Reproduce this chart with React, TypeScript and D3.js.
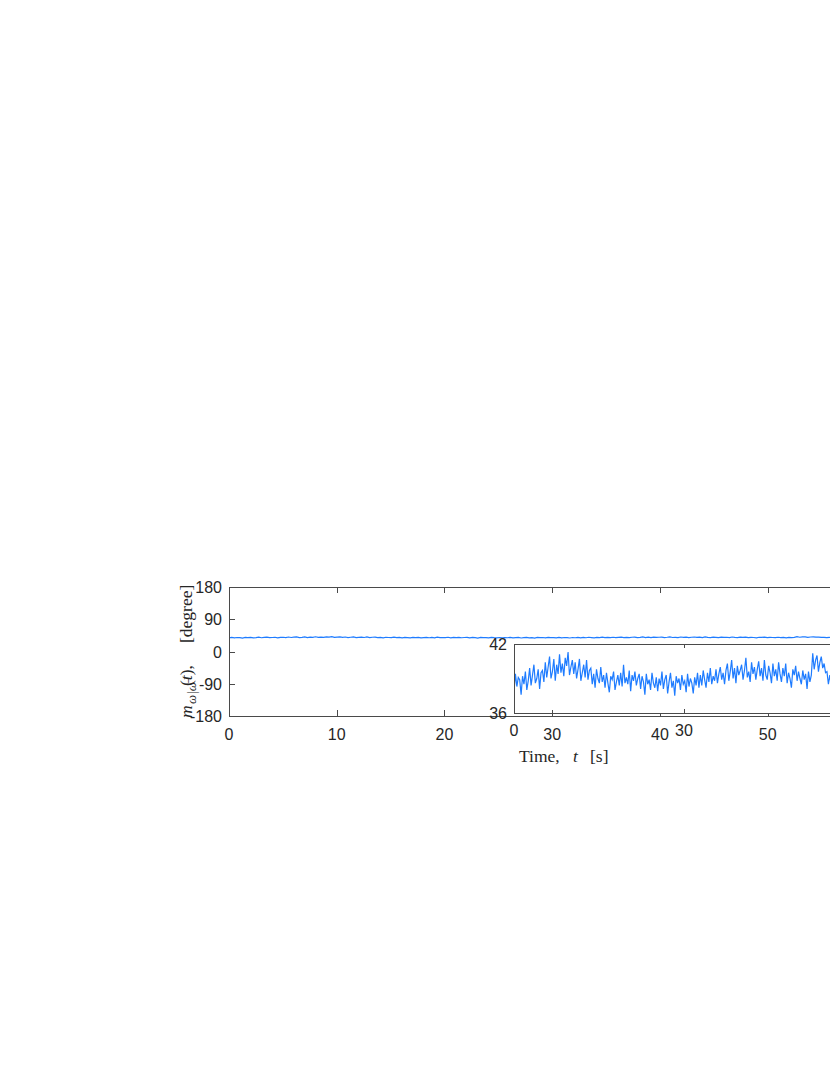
import React from 'react';
import * as d3 from 'd3';

// ---- data ----
const mainXTicks = [0, 10, 20, 30, 40, 50];
const mainXTickLabels = ['0', '10', '20', '30', '40', '50'];
const mainYTicks = [180, 90, 0, -90, -180];
const mainYTickLabels = ['180', '90', '0', '-90', '-180'];
const insetXTicks = [0, 30];
const insetXTickLabels = ['0', '30'];
const insetYTicks = [42, 36];
const insetYTickLabels = ['42', '36'];
const timeStart = 0;
const timeEnd = 60;
// m(t) in degrees, sampled uniformly from timeStart to timeEnd
const signal = [
  37.9, 39.4, 38.3, 39.1, 38.9, 37.6, 39.2, 38.5, 39.6, 38.0, 38.8,
  39.9, 38.4, 39.3, 40.2, 38.6, 39.0, 39.8, 38.1, 39.5, 39.7, 38.7,
  40.4, 39.1, 40.0, 40.9, 39.0, 39.6, 40.7, 38.8, 40.2, 39.4,
  41.1, 39.5, 40.3, 39.2, 40.8, 40.1, 41.3, 39.3, 40.0, 40.6, 39.4,
  40.4, 39.0, 39.8, 40.7, 38.8, 39.5, 40.2, 39.1, 40.6, 38.9, 39.7,
  39.9, 38.5, 39.4, 38.2, 39.8, 39.0, 38.6, 40.0, 38.7, 39.3,
  38.2, 39.5, 38.6, 37.8, 39.2, 38.9, 39.6, 38.0, 38.7, 39.3, 38.4,
  39.5, 38.3, 40.2, 38.6, 39.1, 38.5, 39.7, 37.9, 39.3, 38.8, 39.6, 38.4, 39.0, 39.4,
  38.1, 39.2, 38.7, 37.6, 39.4, 38.5, 38.9, 38.0, 39.5, 38.6, 38.2, 39.1, 37.9, 39.0,
  38.4, 39.6, 38.1, 38.9, 39.3, 37.7, 38.7, 39.5, 38.2, 38.8, 37.5, 39.2, 38.6, 39.0,
  38.0, 39.3, 38.5, 38.8, 37.8, 39.4, 38.3, 39.0, 38.6, 37.7, 39.1, 38.4, 39.5, 38.2,
  39.3, 38.4, 39.7, 38.9, 38.2, 39.5, 38.7, 39.9, 38.5, 39.2, 38.8,
  39.8, 38.6, 39.4, 40.0, 38.9, 39.5, 38.5, 39.7,
  40.3, 38.8, 39.6, 40.6, 39.0, 39.9, 38.6, 40.1, 39.3, 39.7,
  40.2, 38.9, 39.7, 40.8, 39.1, 39.6, 38.7, 40.4, 39.4, 40.0, 38.9, 39.8, 40.5, 39.2,
  39.9, 38.8, 40.6, 39.3, 38.9, 40.1, 39.5, 38.6, 40.3, 39.2, 39.8, 38.8, 40.4, 39.4,
  38.7, 39.9, 39.2, 40.3, 38.6, 39.5, 39.0, 38.2, 39.8, 39.3, 40.1, 38.8, 39.6, 39.0,
  38.5, 39.7, 38.9, 39.4, 38.1, 39.6, 38.7, 39.3,
  41.2, 39.8, 40.6, 41.0, 39.6, 40.4, 40.9, 39.9, 40.3, 39.5,
  39.6, 38.5, 39.3, 38.4, 39.8, 38.9, 39.1, 38.6, 39.5, 38.8,
  39.4, 38.6, 39.7, 38.9, 39.1, 38.7, 39.4, 39.0, 38.8, 39.2,
];

const AXIS = '#4a4a4a';
const TEXT = '#262626';
const LINE = '#1f7cff';
const SANS = '"Liberation Sans", Arial, Helvetica, sans-serif';
const SERIF = '"Liberation Serif", "Times New Roman", serif';

export default function App() {
  const W = 830;
  const H = 1075;
  const main = { left: 229, right: 897, top: 587, bottom: 716 };
  const inset = { left: 514, right: 854, top: 644, bottom: 713 };

  const x = d3.scaleLinear().domain([0, 62]).range([main.left, main.right]);
  const y = d3.scaleLinear().domain([-180, 180]).range([main.bottom, main.top]);
  const xi = d3.scaleLinear().domain([0, 60]).range([inset.left, inset.right]);
  const yi = d3.scaleLinear().domain([36, 42]).range([inset.bottom, inset.top]);

  const times = signal.map((_, i) => timeStart + (i * (timeEnd - timeStart)) / (signal.length - 1));
  const pts = signal.map((v, i) => [times[i], v] as [number, number]);

  const mainLine = d3.line<[number, number]>().x((d) => x(d[0])).y((d) => y(d[1]))(pts) || '';
  const insetLine = d3.line<[number, number]>().x((d) => xi(d[0])).y((d) => yi(d[1]))(pts) || '';

  const tickLen = 6;
  const insetTickLen = 4;
  const rot = (px: number, py: number) => `translate(${px},${py}) rotate(-90)`;

  return (
    <svg width={W} height={H} style={{ position: 'absolute', left: 0, top: 0, background: '#fff' }}>
      <defs>
        <clipPath id="clipMain">
          <rect x={main.left} y={main.top} width={main.right - main.left} height={main.bottom - main.top} />
        </clipPath>
        <clipPath id="clipInset">
          <rect x={inset.left} y={inset.top} width={inset.right - inset.left} height={inset.bottom - inset.top} />
        </clipPath>
      </defs>

      {/* main axes */}
      <rect x={main.left} y={main.top} width={main.right - main.left} height={main.bottom - main.top} fill="#fff" />
      <path d={mainLine} fill="none" stroke={LINE} strokeWidth={1.2} clipPath="url(#clipMain)" />
      <rect x={main.left + 0.5} y={main.top + 0.5} width={main.right - main.left} height={main.bottom - main.top} fill="none" stroke={AXIS} strokeWidth={1} />
      {mainXTicks.map((t) => (
        <g key={'mx' + t}>
          <line x1={Math.round(x(t)) + 0.5} x2={Math.round(x(t)) + 0.5} y1={main.top} y2={main.top + tickLen} stroke={AXIS} />
          <line x1={Math.round(x(t)) + 0.5} x2={Math.round(x(t)) + 0.5} y1={main.bottom} y2={main.bottom - tickLen} stroke={AXIS} />
        </g>
      ))}
      {mainYTicks.map((v) => (
        <line key={'my' + v} x1={main.left} x2={main.left + tickLen} y1={Math.round(y(v)) + 0.5} y2={Math.round(y(v)) + 0.5} stroke={AXIS} />
      ))}
      {mainXTicks.map((t, i) => (
        <text key={'mxl' + t} x={x(t)} y={740} textAnchor="middle" fontFamily={SANS} fontSize={16} fill={TEXT}>
          {mainXTickLabels[i]}
        </text>
      ))}
      {mainYTicks.map((v, i) => (
        <text key={'myl' + v} x={main.left - 7} y={y(v) + 6} textAnchor="end" fontFamily={SANS} fontSize={16} fill={TEXT}>
          {mainYTickLabels[i]}
        </text>
      ))}

      {/* x label */}
      <text x={519} y={762} fontFamily={SERIF} fontSize={17.5} fill={TEXT}>Time,</text>
      <text x={573} y={762} fontFamily={SERIF} fontSize={17.5} fontStyle="italic" fill={TEXT}>t</text>
      <text x={590} y={762} fontFamily={SERIF} fontSize={17.5} fill={TEXT}>[s]</text>

      {/* y label, rotated, read bottom to top */}
      <text transform={rot(192, 718)} fontFamily={SERIF} fontSize={17.5} fontStyle="italic" fill={TEXT}>m</text>
      <text transform={rot(196, 704)} fontFamily={SERIF} fontSize={13} fontStyle="italic" fill={TEXT}>ω|ω̄</text>
      <text transform={rot(192, 686)} fontFamily={SERIF} fontSize={17.5} fill={TEXT}>
        (<tspan fontStyle="italic">t</tspan>),
      </text>
      <text transform={rot(192, 643)} fontFamily={SERIF} fontSize={17.5} fill={TEXT}>[degree]</text>

      {/* inset axes */}
      <rect x={inset.left} y={inset.top} width={inset.right - inset.left} height={inset.bottom - inset.top} fill="#fff" />
      <path d={insetLine} fill="none" stroke={LINE} strokeWidth={1.2} strokeLinejoin="miter" clipPath="url(#clipInset)" />
      <rect x={inset.left + 0.5} y={inset.top + 0.5} width={inset.right - inset.left} height={inset.bottom - inset.top} fill="none" stroke={AXIS} strokeWidth={1} />
      {insetXTicks.map((t) => (
        <g key={'ix' + t}>
          <line x1={Math.round(xi(t)) + 0.5} x2={Math.round(xi(t)) + 0.5} y1={inset.top} y2={inset.top + insetTickLen} stroke={AXIS} />
          <line x1={Math.round(xi(t)) + 0.5} x2={Math.round(xi(t)) + 0.5} y1={inset.bottom} y2={inset.bottom - insetTickLen} stroke={AXIS} />
        </g>
      ))}
      {/* main tick at 30 shows through the inset bottom */}
      <line x1={Math.round(x(30)) + 0.5} x2={Math.round(x(30)) + 0.5} y1={inset.bottom} y2={inset.bottom - 3} stroke={AXIS} />
      {insetXTicks.map((t, i) => (
        <text key={'ixl' + t} x={xi(t)} y={736} textAnchor="middle" fontFamily={SANS} fontSize={16} fill={TEXT}>
          {insetXTickLabels[i]}
        </text>
      ))}
      {insetYTicks.map((v, i) => (
        <text key={'iyl' + v} x={inset.left - 7} y={yi(v) + 6} textAnchor="end" fontFamily={SANS} fontSize={16} fill={TEXT}>
          {insetYTickLabels[i]}
        </text>
      ))}
    </svg>
  );
}
